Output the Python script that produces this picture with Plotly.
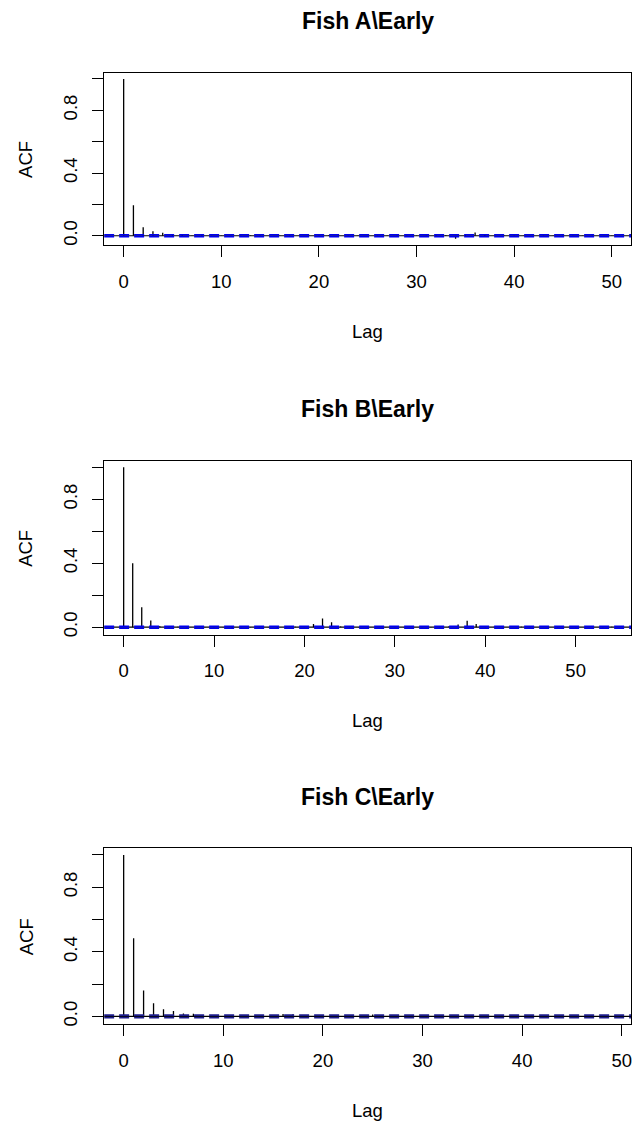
import plotly.graph_objects as go

# Autocorrelation estimates per fish (early period), lag 0 .. max lag
fish_a_acf = [1.000, 0.195, 0.054, 0.029, 0.019, 0.006, 0.004, 0.002, 0.003, -0.002,
              0.001, 0.002, -0.001, 0.003, 0.002, 0.000, -0.002, 0.001, 0.002, -0.001,
              0.001, 0.003, 0.002, -0.002, 0.001, 0.000, 0.002, -0.001, 0.001, 0.002,
              -0.002, 0.001, 0.003, 0.004, -0.020, 0.005, 0.020, 0.004, 0.002, -0.001,
              0.001, 0.002, 0.000, -0.001, 0.002, 0.001, -0.002, 0.001, 0.002, 0.000,
              0.001]
fish_b_acf = [1.000, 0.400, 0.125, 0.042, 0.006, 0.003, 0.002, 0.001, 0.002, 0.001,
              0.002, 0.001, -0.008, 0.002, 0.001, 0.002, 0.001, -0.006, 0.002, 0.003,
              0.005, 0.020, 0.054, 0.030, 0.004, 0.002, 0.001, 0.002, -0.001, 0.001,
              0.002, 0.001, 0.000, 0.002, 0.001, 0.002, 0.005, 0.017, 0.040, 0.020,
              0.004, 0.002, 0.001, -0.001, 0.002, 0.001, 0.000, 0.002, 0.001, -0.001,
              0.002, 0.001, 0.000, 0.001, 0.002]
fish_c_acf = [1.000, 0.484, 0.160, 0.082, 0.044, 0.033, 0.018, 0.016, 0.009, 0.004,
              0.003, 0.002, 0.003, 0.002, 0.004, 0.005, 0.015, 0.013, 0.004, 0.003,
              0.002, 0.003, 0.002, 0.004, 0.005, 0.012, 0.004, 0.002, 0.003, 0.002,
              0.001, 0.002, 0.003, 0.002, 0.001, 0.002, 0.003, 0.002, 0.001, 0.002,
              0.001, 0.002, 0.001, 0.002, 0.001, 0.002, 0.001, 0.002, 0.001, 0.002]

# 95% confidence bound (+/-) for each series
conf_bounds = [0.006, 0.006, 0.008]
titles = ["Fish A\\Early", "Fish B\\Early", "Fish C\\Early"]
ci_colors = ["#0000ee", "#0000ee", "#1c1c8a"]
y_tick_vals = [0.0, 0.2, 0.4, 0.6, 0.8, 1.0]
y_tick_text = ["0.0", "", "0.4", "", "0.8", ""]
x_tick_vals = [0, 10, 20, 30, 40, 50]

series = [fish_a_acf, fish_b_acf, fish_c_acf]

W, H = 636, 1123
FONT = "Liberation Sans, Arial, sans-serif"
TICK_SIZE = 18.5
TITLE_SIZE = 23

# panel boxes in pixels: (top, bottom)
x_left, x_right = 104.3, 632.3
boxes = [(72.7, 245.7), (461.7, 636.0), (850.0, 1026.0)]

fig = go.Figure()
annotations = []

for i, (acf, ci) in enumerate(zip(series, conf_bounds)):
    n = i + 1
    xa = "x" if n == 1 else f"x{n}"
    ya = "y" if n == 1 else f"y{n}"
    max_lag = len(acf) - 1
    lags = list(range(len(acf)))

    # vertical spikes (type "h")
    sx, sy = [], []
    for lag, v in zip(lags, acf):
        sx += [lag, lag, None]
        sy += [0, v, None]
    fig.add_trace(go.Scatter(x=sx, y=sy, mode="lines", xaxis=xa, yaxis=ya,
                             line=dict(color="black", width=1.3),
                             hoverinfo="skip", showlegend=False))

    xlo, xhi = -0.04 * max_lag, 1.04 * max_lag
    # zero reference line
    fig.add_trace(go.Scatter(x=[xlo, xhi], y=[0, 0], mode="lines", xaxis=xa, yaxis=ya,
                             line=dict(color="black", width=1.2),
                             hoverinfo="skip", showlegend=False))
    # confidence bounds
    for b in (ci, -ci):
        fig.add_trace(go.Scatter(x=[xlo, xhi], y=[b, b], mode="lines", xaxis=xa, yaxis=ya,
                                 line=dict(color=ci_colors[i], width=1.6, dash="10px,5px"),
                                 hoverinfo="skip", showlegend=False))

    ymin = min(min(acf), -ci)
    ymax = max(max(acf), ci)
    pad = 0.04 * (ymax - ymin)
    top, bottom = boxes[i]
    dom_y = [1 - bottom / H, 1 - top / H]
    dom_x = [x_left / W, x_right / W]

    axis_common = dict(showline=True, mirror=True, linecolor="black", linewidth=1.3,
                       ticks="outside", ticklen=11, tickwidth=1.3, tickcolor="black",
                       showgrid=False, zeroline=False,
                       tickfont=dict(family=FONT, size=TICK_SIZE, color="black"))
    fig.update_layout(**{
        ("xaxis" if n == 1 else f"xaxis{n}"): dict(
            domain=dom_x, anchor=ya, range=[xlo, xhi],
            tickvals=x_tick_vals, ticktext=[str(v) for v in x_tick_vals],
            ticklabelstandoff=8, **axis_common),
        ("yaxis" if n == 1 else f"yaxis{n}"): dict(
            domain=dom_y, anchor=xa, range=[ymin - pad, ymax + pad],
            tickvals=y_tick_vals, ticktext=y_tick_text, tickangle=-90,
            ticklabelstandoff=8, **axis_common),
    })

    cx = (x_left + x_right) / 2 / W
    annotations.append(dict(text=f"<b>{titles[i]}</b>", x=cx, y=1 - (top - 52) / H,
                            xref="paper", yref="paper", showarrow=False,
                            xanchor="center", yanchor="middle",
                            font=dict(family=FONT, size=TITLE_SIZE, color="black")))
    annotations.append(dict(text="Lag", x=cx, y=1 - (bottom + 86) / H,
                            xref="paper", yref="paper", showarrow=False,
                            xanchor="center", yanchor="middle",
                            font=dict(family=FONT, size=TICK_SIZE, color="black")))
    annotations.append(dict(text="ACF", x=26 / W, y=1 - (top + bottom) / 2 / H,
                            xref="paper", yref="paper", showarrow=False, textangle=-90,
                            xanchor="center", yanchor="middle",
                            font=dict(family=FONT, size=TICK_SIZE, color="black")))

fig.update_layout(width=W, height=H, autosize=False,
                  margin=dict(l=0, r=0, t=0, b=0),
                  paper_bgcolor="white", plot_bgcolor="white",
                  annotations=annotations, showlegend=False)

fig.write_html("out.html")
